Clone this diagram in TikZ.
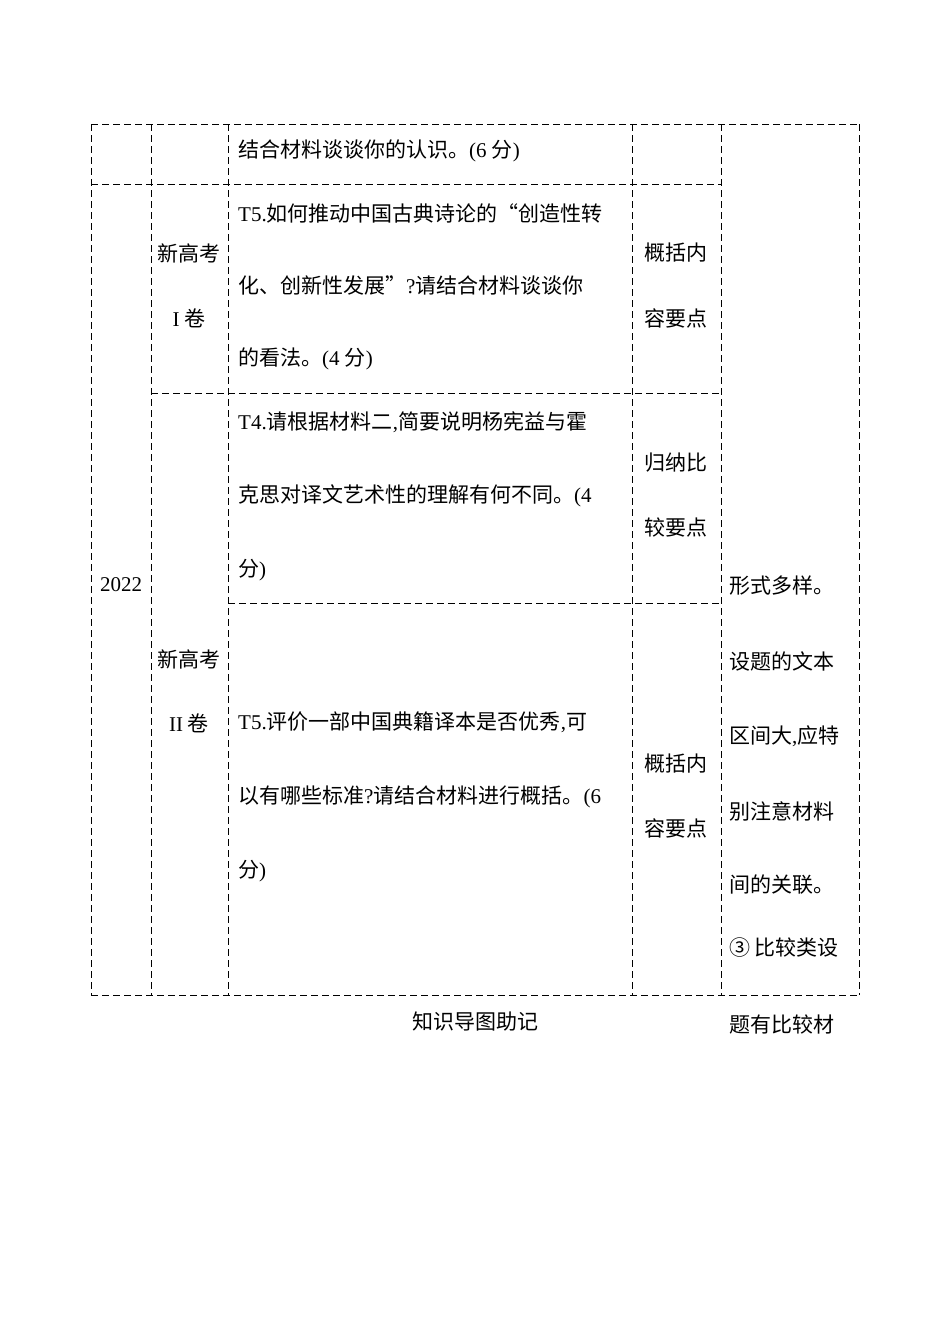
\documentclass[tikz,border=0pt]{standalone}
\usepackage{fontspec}
\setmainfont{Noto Sans CJK SC}
\newfontfamily\lat{Liberation Serif}
\newcommand{\LL}[1]{{\lat #1}}
\begin{document}
\begin{tikzpicture}[x=1pt,y=-1pt,
  grid/.style={dashed,line width=0.8pt,dash pattern=on 7pt off 4pt},
  txt/.style={anchor=west,inner sep=0pt,font=\fontsize{21}{21}\selectfont},
  ctr/.style={inner sep=0pt,font=\fontsize{21}{21}\selectfont}]
\useasboundingbox (0,0) rectangle (950,1344);
% frame
\draw[grid] (91,124) -- (859,124);
\draw[grid] (91,995) -- (859,995);
\draw[grid] (91,184) -- (721,184);
\draw[grid] (151,393) -- (721,393);
\draw[grid] (228,603) -- (721,603);
\foreach \x in {91,151,228,632,721,859} \draw[grid] (\x,124) -- (\x,995);
% row 1
\node[txt] (r1) at (238,151) {结合材料谈谈你的认识。\LL{(6 }分\LL{)}};
% row 2
\node[txt] (a1) at (238,213) {\LL{T5.}如何推动中国古典诗论的“创造性转};
\node[txt] (a2) at (238,286) {化、创新性发展”\LL{?}请结合材料谈谈你};
\node[txt] (a3) at (238,359) {的看法。\LL{(4 }分\LL{)}};
\node[ctr] (k1) at (189,253) {新高考};
\node[ctr] (k2) at (189,318) {\LL{I} 卷};
\node[ctr] (p1) at (676,253) {概括内};
\node[ctr] (p2) at (676,318) {容要点};
% row 3
\node[txt] (b1) at (238,422) {\LL{T4.}请根据材料二\LL{,}简要说明杨宪益与霍};
\node[txt] (b2) at (238,496) {克思对译文艺术性的理解有何不同。\LL{(4}};
\node[txt] (b3) at (238,570) {分\LL{)}};
\node[ctr] (q1) at (676,463) {归纳比};
\node[ctr] (q2) at (676,527) {较要点};
% row 4
\node[txt] (c1) at (238,722) {\LL{T5.}评价一部中国典籍译本是否优秀\LL{,}可};
\node[txt] (c2) at (238,797) {以有哪些标准\LL{?}请结合材料进行概括。\LL{(6}};
\node[txt] (c3) at (238,871) {分\LL{)}};
\node[ctr] (m1) at (189,659) {新高考};
\node[ctr] (m2) at (189,723) {\LL{II} 卷};
\node[ctr] (s1) at (676,764) {概括内};
\node[ctr] (s2) at (676,828) {容要点};
\node[ctr] (y) at (121,585) {\LL{2022}};
% right column
\node[txt] (z1) at (729,586) {形式多样。};
\node[txt] (z2) at (729,661) {设题的文本};
\node[txt] (z3) at (729,736) {区间大\LL{,}应特};
\node[txt] (z4) at (729,811) {别注意材料};
\node[txt] (z5) at (729,885) {间的关联。};
\node[txt] (z6) at (729,948) {③ 比较类设};
\node[txt] (z7) at (729,1024) {题有比较材};
\node[ctr] (t) at (475,1022) {知识导图助记};
\end{tikzpicture}
\end{document}
